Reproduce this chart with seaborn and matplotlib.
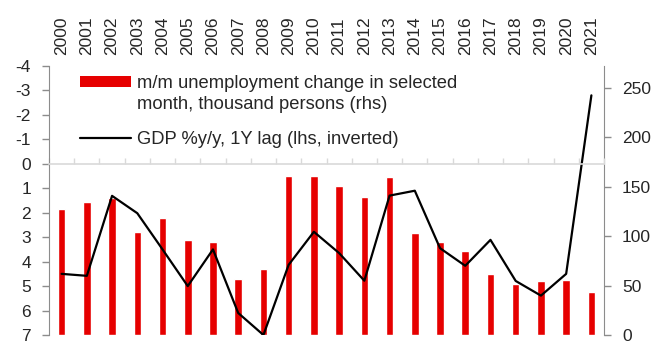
import numpy as np
import pandas as pd
import matplotlib
matplotlib.use("Agg")
import matplotlib.pyplot as plt
import seaborn as sns
from matplotlib.patches import Patch
from matplotlib.lines import Line2D
from matplotlib.ticker import FixedLocator

years = [2000, 2001, 2002, 2003, 2004, 2005, 2006, 2007, 2008, 2009, 2010,
         2011, 2012, 2013, 2014, 2015, 2016, 2017, 2018, 2019, 2020, 2021]
unemp_change = [127, 134, 139, 104, 118, 96, 94, 56.5, 67, 161, 161,
                151, 139.5, 159.5, 103, 94, 84.6, 62, 52, 54.5, 56, 43]
gdp_lag = [4.5, 4.58, 1.31, 2.02, 3.5, 5.0, 3.5, 6.1, 7.0, 4.13, 2.78,
           3.65, 4.78, 1.30, 1.10, 3.45, 4.17, 3.11, 4.79, 5.39, 4.5, -2.8]
left_ticks = [-4, -3, -2, -1, 0, 1, 2, 3, 4, 5, 6, 7]
right_ticks = [0, 50, 100, 150, 200, 250]
bar_label_lines = ["m/m unemployment change in selected",
                   "month, thousand persons (rhs)"]
line_label = "GDP %y/y, 1Y lag (lhs, inverted)"

sns.set_style("white")
plt.rcParams["font.family"] = ["Liberation Sans", "DejaVu Sans"]
plt.rcParams["axes.unicode_minus"] = False

df = pd.DataFrame({"year": [str(y) for y in years],
                   "unemp": unemp_change,
                   "gdp": gdp_lag,
                   "pos": np.arange(len(years))})

W, H = 659, 342
fig = plt.figure(figsize=(W / 100, H / 100), dpi=100)
ax = fig.add_axes([49 / W, 1 - 335 / H, (604 - 49) / W, (335 - 66) / H])
ax2 = ax.twinx()

red = "#e60000"
spine_gray = "#8c8c8c"
zero_gray = "#d9d9d9"
fs = 12.5
lfs = 13.2

sns.barplot(data=df, x="year", y="unemp", ax=ax2, color=red, width=0.3,
            saturation=1, errorbar=None)
sns.lineplot(data=df, x="pos", y="gdp", ax=ax, color="black", linewidth=1.6)

n = len(years)
ax.set_xlim(-0.5, n - 0.5)
ax.set_ylim(7, -4)
ax2.set_ylim(0, 272)
ax.set_zorder(ax2.get_zorder() + 1)
ax.patch.set_visible(False)

ax.set_yticks(left_ticks)
ax.set_yticklabels([str(t) for t in left_ticks])
ax2.set_yticks(right_ticks)
ax2.set_yticklabels([str(t) for t in right_ticks])

ax.xaxis.set_major_locator(FixedLocator(list(range(n))))
ax.set_xticklabels([str(y) for y in years])
ax.xaxis.set_minor_locator(FixedLocator(list(np.arange(n + 1) - 0.5)))
ax.tick_params(axis="x", which="major", top=True, labeltop=True, bottom=False,
               labelbottom=False, length=0, pad=8, labelsize=fs, rotation=90)
ax.tick_params(axis="x", which="minor", top=False, bottom=True, direction="in",
               length=4, width=1, color=zero_gray)

ax.tick_params(axis="y", which="major", left=True, direction="out", length=5,
               width=1, color=spine_gray, pad=8, labelsize=fs)
ax2.tick_params(axis="y", which="major", right=True, direction="out", length=5,
                width=1, color=spine_gray, pad=8, labelsize=fs)

for s in ["top", "right"]:
    ax.spines[s].set_visible(False)
ax.spines["left"].set_color(spine_gray)
ax.spines["bottom"].set_position(("data", 0))
ax.spines["bottom"].set_color(zero_gray)
ax.spines["bottom"].set_linewidth(1.2)
for s in ["top", "bottom", "left"]:
    ax2.spines[s].set_visible(False)
ax2.spines["right"].set_color(spine_gray)

ax.set_xlabel("")
ax.set_ylabel("")
ax2.set_xlabel("")
ax2.set_ylabel("")
ax.grid(False)
ax2.grid(False)
if ax.get_legend():
    ax.get_legend().remove()

common = dict(loc="upper left", frameon=False, fontsize=lfs, borderpad=0,
              borderaxespad=0, handlelength=2.79, handleheight=0.53,
              handletextpad=0.33)
leg1 = fig.legend([Patch(facecolor=red, edgecolor="none"),
                   Patch(facecolor="none", edgecolor="none")],
                  bar_label_lines, bbox_to_anchor=(80 / W, 1 - 75 / H),
                  labelspacing=0.2, **common)
leg2 = fig.legend([Line2D([], [], color="black", linewidth=1.6)],
                  [line_label], bbox_to_anchor=(80 / W, 1 - 131 / H),
                  **common)

fig.savefig("out.png", dpi=100)
